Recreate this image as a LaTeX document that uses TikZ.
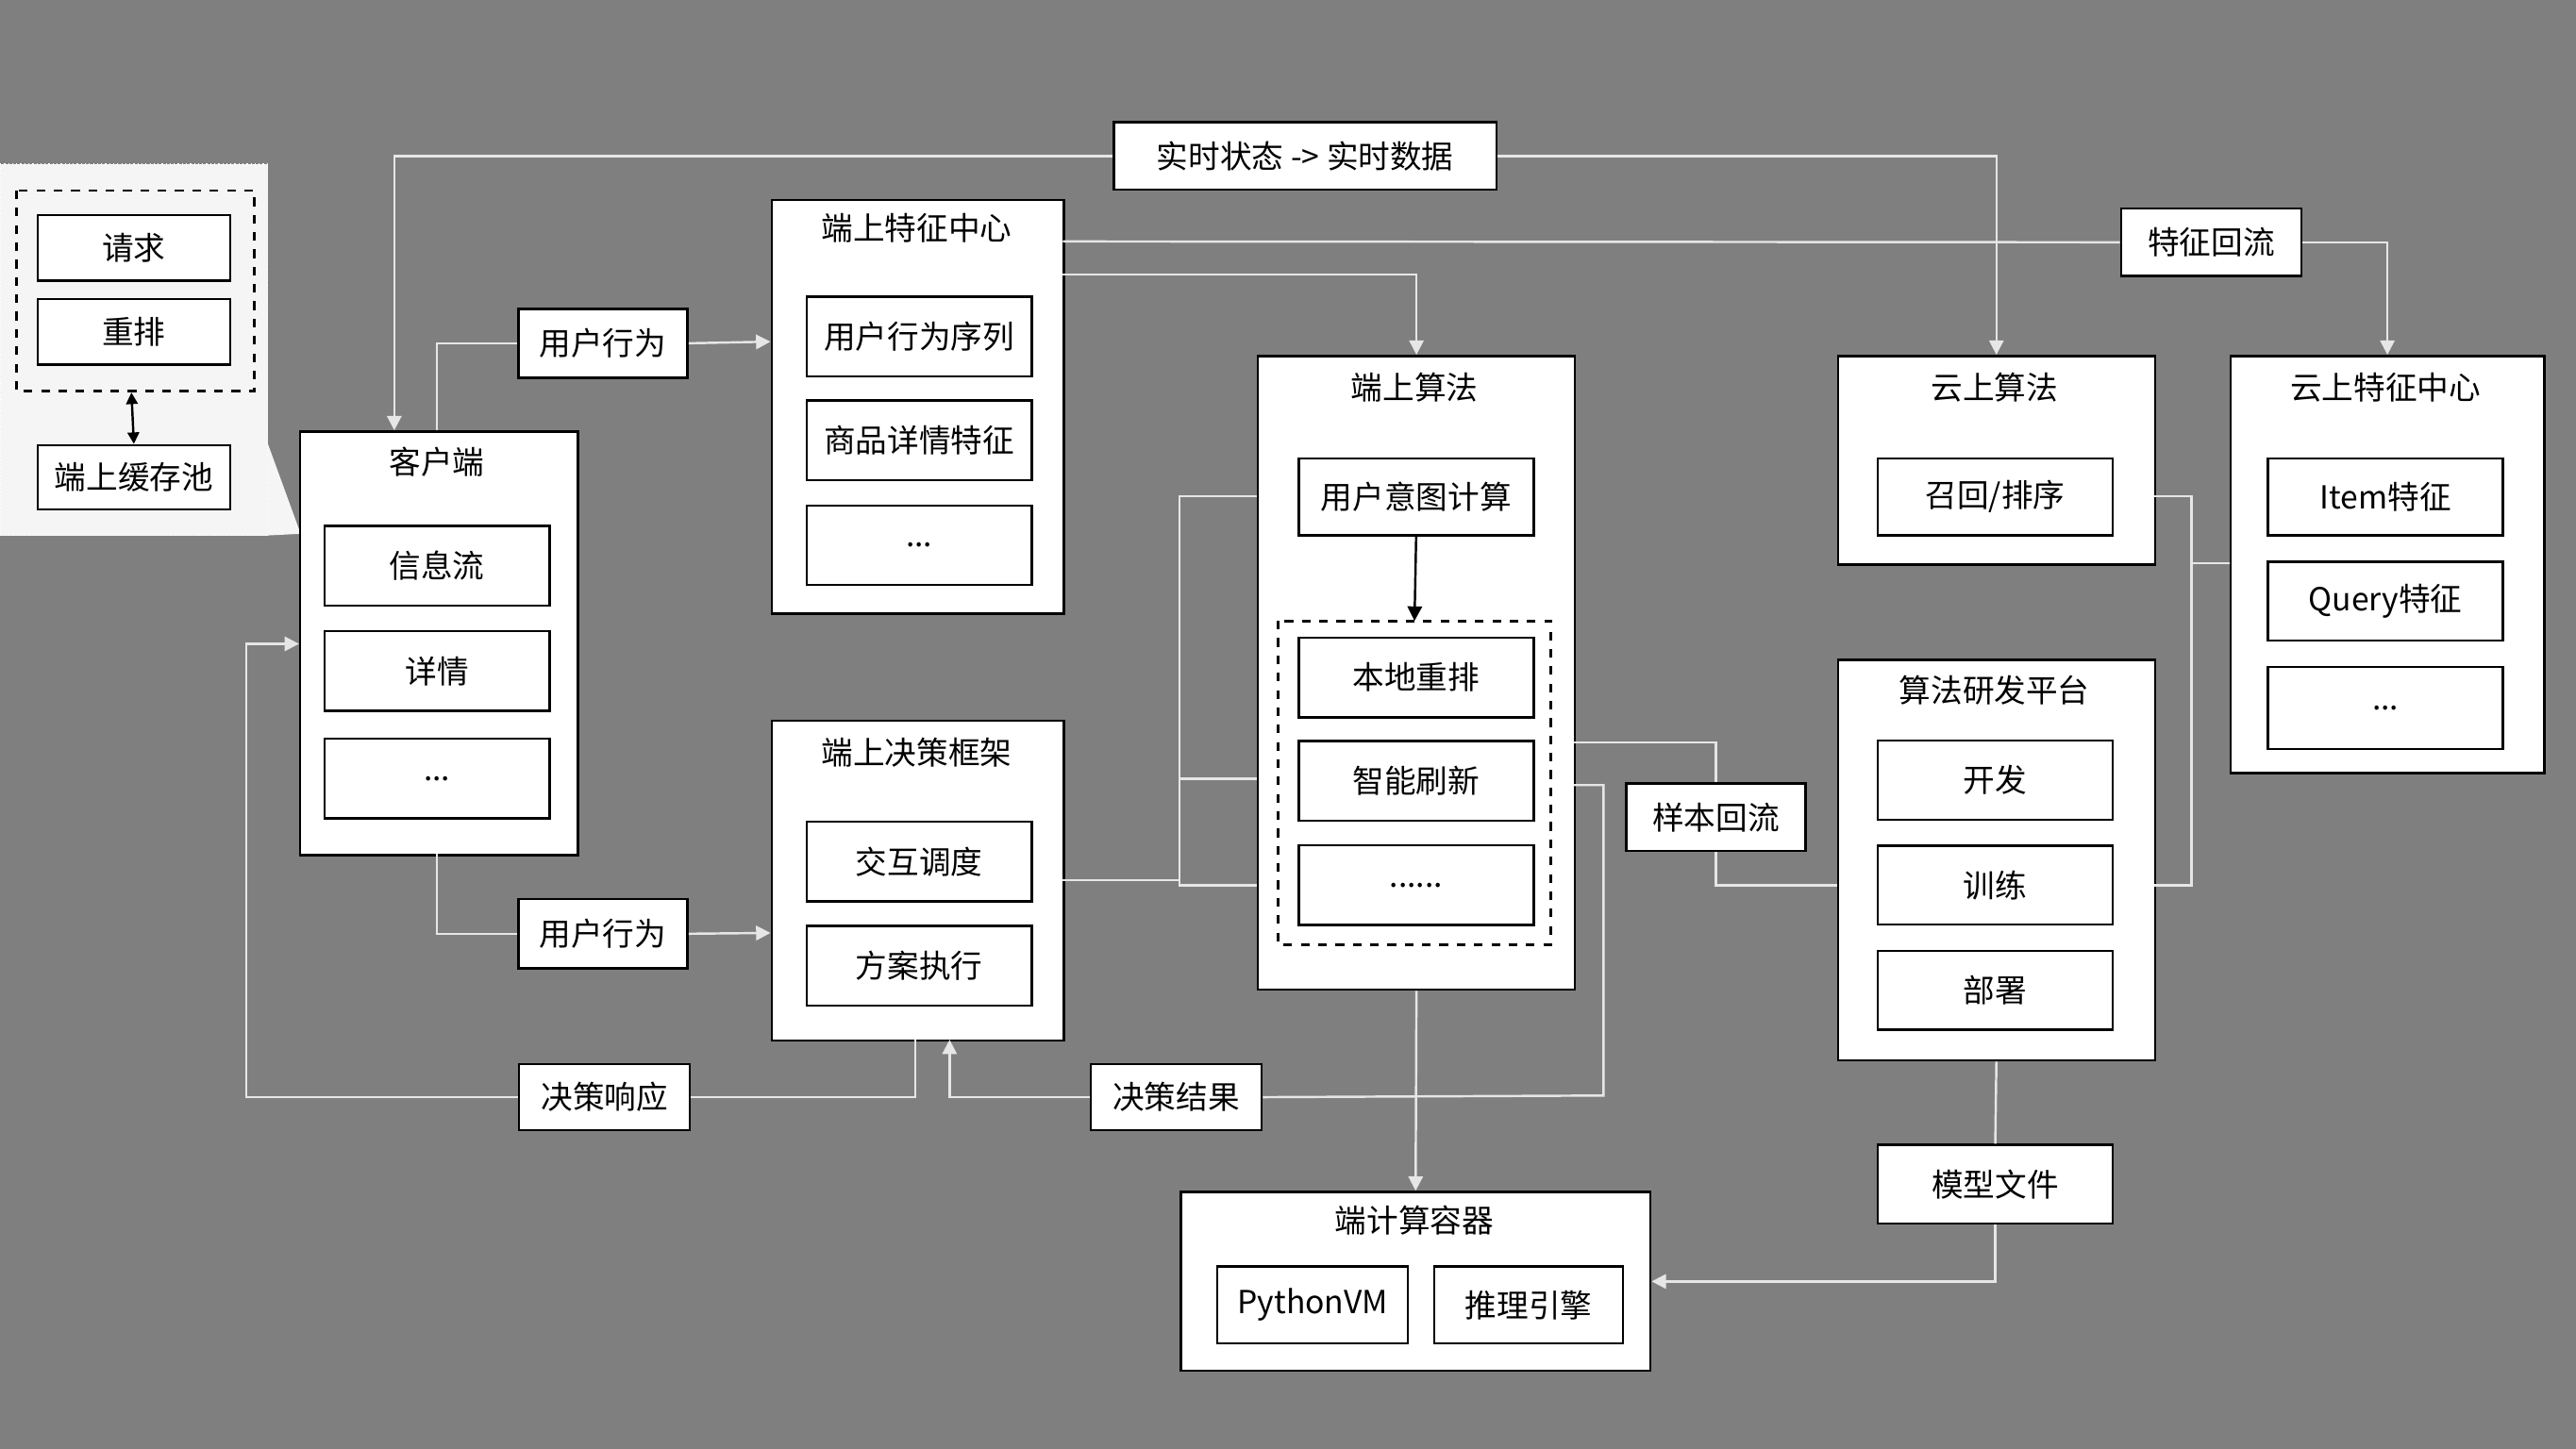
\documentclass[tikz,border=0pt]{standalone}
\usepackage{fontspec}
\setmainfont{Noto Sans CJK SC}
\usetikzlibrary{positioning,arrows.meta}
\definecolor{bg}{HTML}{7F7F7F}
\definecolor{wire}{HTML}{E6E6E6}
\tikzset{
  box/.style={draw=black, fill=white, line width=0.8pt, anchor=north west, inner sep=0pt},
  sub/.style={draw=black, fill=white, line width=0.8pt, minimum width=2.74cm, minimum height=0.97cm, inner sep=0pt, font=\fontsize{11}{13}\selectfont},
  csub/.style={sub, minimum width=2.86cm},
  tag/.style={sub, minimum width=2.06cm, minimum height=0.84cm},
  title/.style={font=\fontsize{11}{13}\selectfont},
  wire/.style={draw=wire, line width=0.8pt},
  flow/.style={wire, -{Triangle[length=5pt,width=5pt,fill=wire]}}
}
\begin{document}
\begin{tikzpicture}[x=0.02cm, y=-0.02cm]
  \fill[bg] (0,0) rectangle (1568,882);
  \useasboundingbox (0,0) rectangle (1568,882);

  % left cache panel
  \fill[white!92!bg, draw=white, densely dotted] (0,100) rectangle (163,326);
  \fill[white!92!bg] (163,270) -- (183,325) -- (163,326) -- cycle;
  \draw[black, dashed, line width=0.9pt] (10,116) rectangle (155,238);
  \node[sub, minimum width=2.34cm, minimum height=0.8cm] (req) at (81.5,151) {请求};
  \node[sub, minimum width=2.34cm, minimum height=0.8cm] (rerank) at (81.5,202) {重排};
  \node[sub, minimum width=2.34cm, minimum height=0.78cm] (cache) at (81.5,290.5) {端上缓存池};
  \draw[{Triangle[length=4pt,width=4pt]}-{Triangle[length=4pt,width=4pt]}, line width=0.8pt] (80,239) -- (cache.north);

  % client
  \node[box, minimum width=3.38cm, minimum height=5.16cm] (client) at (182,262) {};
  \node[title] (clientT) at (266,281) {客户端};
  \node[sub] (feed) at (266,344.5) {信息流};
  \node[sub] (detail) at (266,408.5) {详情};
  \node[sub] (cdots) at (266,474) {...};

  % top status
  \node[tag, minimum width=4.66cm, minimum height=0.82cm] (status) at (794.5,95) {实时状态 -> 实时数据};

  % device feature center
  \node[box, minimum width=3.56cm, minimum height=5.04cm] (fc) at (469,121) {};
  \node[title] at (558,139) {端上特征中心};
  \node[sub] (seq) at (559.5,205) {用户行为序列};
  \node[sub] (item) at (559.5,268) {商品详情特征};
  \node[sub] (fdots) at (559.5,332) {...};

  % decision framework
  \node[box, minimum width=3.56cm, minimum height=3.9cm] (df) at (469,438) {};
  \node[title] at (558,458) {端上决策框架};
  \node[sub] (sched) at (559.5,524.5) {交互调度};
  \node[sub] (exec) at (559.5,588) {方案执行};

  % device algorithm
  \node[box, minimum width=3.86cm, minimum height=7.72cm] (algo) at (765,216) {};
  \node[title] at (861,236) {端上算法};
  \node[csub, minimum height=0.94cm] (intent) at (862,302.5) {用户意图计算};
  \draw[black, dashed, line width=0.9pt] (778,378) rectangle (944,575);
  \coordinate (dash) at (861,378);
  \node[csub] (local) at (862,412.5) {本地重排};
  \node[csub] (refresh) at (862,475.5) {智能刷新};
  \node[csub] (adots) at (862,539) {......};

  % cloud algorithm
  \node[box, minimum width=3.86cm, minimum height=2.54cm] (calgo) at (1118,216) {};
  \node[title] at (1214,236) {云上算法};
  \node[csub, minimum height=0.94cm] (recall) at (1214.5,302.5) {召回/排序};

  % cloud feature center
  \node[box, minimum width=3.82cm, minimum height=5.08cm] (cfc) at (1357,216) {};
  \node[title] at (1452,236) {云上特征中心};
  \node[csub, minimum height=0.94cm] (itemf) at (1452,302.5) {Item特征};
  \node[csub, minimum height=0.96cm] (query) at (1452,366) {Query特征};
  \node[csub, minimum height=1cm] (cdots2) at (1452,431) {...};

  % platform
  \node[box, minimum width=3.86cm, minimum height=4.88cm] (plat) at (1118,401) {};
  \node[title] at (1214,420) {算法研发平台};
  \node[csub, minimum height=0.96cm] (dev) at (1214.5,475) {开发};
  \node[csub, minimum height=0.96cm] (train) at (1214.5,539) {训练};
  \node[csub, minimum height=0.96cm] (deploy) at (1214.5,603) {部署};

  % container
  \node[box, minimum width=5.72cm, minimum height=2.18cm] (cont) at (718,725) {};
  \node[title] at (861,743) {端计算容器};
  \node[sub, minimum width=2.32cm, minimum height=0.94cm] (pyvm) at (799,794.5) {PythonVM};
  \node[sub, minimum width=2.3cm, minimum height=0.94cm] (infer) at (930.5,794.5) {推理引擎};

  % labels on wires
  \node[tag] (act1) at (367,209) {用户行为};
  \node[tag] (act2) at (367,568.5) {用户行为};
  \node[tag, minimum width=2.08cm, minimum height=0.8cm] (resp) at (368,668) {决策响应};
  \node[tag, minimum width=2.08cm, minimum height=0.8cm] (result) at (716,668) {决策结果};
  \node[tag, minimum width=2.2cm, minimum height=0.82cm] (fback) at (1346,147.5) {特征回流};
  \node[tag, minimum width=2.18cm, minimum height=0.82cm] (sback) at (1044.5,497.5) {样本回流};
  \node[csub, minimum height=0.96cm] (model) at (1214.5,721) {模型文件};

  % connectors
  \draw[flow] (status.west) -| (240,262);
  \draw[flow] (status.east) -| (calgo.north);
  \draw[wire] (647,147) -- (fback.west);
  \draw[flow] (fback.east) -| (cfc.north);
  \draw[flow] (647,167) -| (algo.north);
  \draw[wire] (266,262) |- (act1.west);
  \draw[flow] (act1.east) -- (469,208);
  \draw[wire] (266,520) |- (act2.west);
  \draw[flow] (act2.east) -- (469,568);
  \draw[wire] (557,633) |- (resp.east);
  \draw[flow] (resp.west) -| (150,392) -- (182,392);
  \draw[wire] (958,478) -| (976,667) -- (result.east);
  \draw[flow] (result.west) -| (578,633);
  \draw[wire] (647,536) -- (718,536);
  \draw[wire] (765,302) -| (718,539) -- (765,539);
  \draw[wire] (718,474) -- (765,474);
  \draw[flow, draw=black, -{Triangle[length=5pt,width=5pt]}] (intent.south) -- (dash);
  \draw[flow] (algo.south) -- (cont.north);
  \draw[wire] (958,452) -| (sback.north);
  \draw[wire] (sback.south) |- (1118,539);
  \draw[wire] (1311,302) -| (1334,539) -- (1311,539);
  \draw[wire] (1334,343) -- (1357,343);
  \draw[wire] (plat.south) -- (model.north);
  \draw[flow] (model.south) |- (cont.east);
\end{tikzpicture}
\end{document}
